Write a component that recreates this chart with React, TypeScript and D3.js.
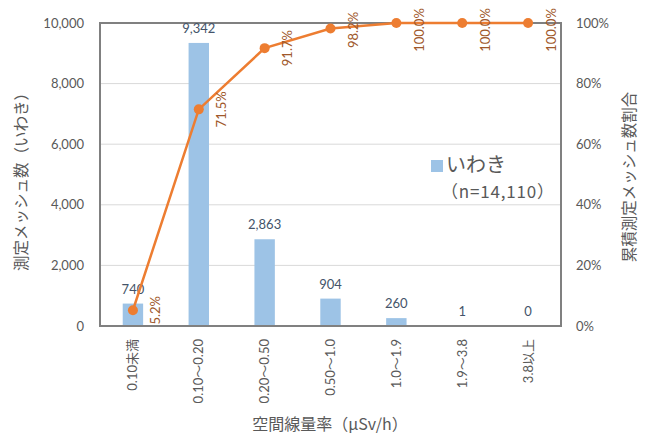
import React from "react";
import * as d3 from "d3";

const categories = ["0.10未満", "0.10～0.20", "0.20～0.50", "0.50～1.0", "1.0～1.9", "1.9～3.8", "3.8以上"];
const counts = [740, 9342, 2863, 904, 260, 1, 0];
const cumulative = [5.2, 71.5, 91.7, 98.2, 100.0, 100.0, 100.0];
const leftTicks = [0, 2000, 4000, 6000, 8000, 10000];
const rightTicks = [0, 20, 40, 60, 80, 100];

const W = 654, H = 441;
const M = { left: 100, right: 561, top: 23, bottom: 326 };
const FONT = "Lato, 'Noto Sans CJK JP', sans-serif";
const JP = "'Noto Sans CJK JP', sans-serif";

export default function App() {
  const x = d3.scaleBand<string>().domain(categories).range([M.left, M.right]);
  const yL = d3.scaleLinear().domain([0, 10000]).range([M.bottom, M.top]);
  const yR = d3.scaleLinear().domain([0, 100]).range([M.bottom, M.top]);
  const bw = x.bandwidth() * 0.31;
  const cx = (c: string) => (x(c) as number) + x.bandwidth() / 2;
  const line = d3.line<number>().x((_, i) => cx(categories[i])).y((d) => yR(d));

  return (
    <svg width={W} height={H} style={{ position: "absolute", left: 0, top: 0, background: "#fff" }}>
      {leftTicks.map((t) => (
        <line key={"g" + t} x1={M.left} x2={M.right} y1={yL(t)} y2={yL(t)} stroke="#D9D9D9" strokeWidth={1} />
      ))}
      {categories.map((c, i) => (
        <rect key={"b" + c} x={cx(c) - bw / 2} width={bw} y={yL(counts[i])} height={M.bottom - yL(counts[i])} fill="#9DC3E6" />
      ))}
      <rect x={M.left} y={M.top} width={M.right - M.left} height={M.bottom - M.top} fill="none" stroke="#808080" strokeWidth={2} />
      {categories.map((c, i) => (
        <text key={"v" + c} x={cx(c)} y={yL(counts[i]) - 10} textAnchor="middle" fontFamily={FONT} fontSize={13} fill="#44546A">
          {d3.format(",")(counts[i])}
        </text>
      ))}
      <path d={line(cumulative) || ""} fill="none" stroke="#ED7D31" strokeWidth={2.5} />
      {cumulative.map((v, i) => (
        <circle key={"p" + i} cx={cx(categories[i])} cy={yR(v)} r={5} fill="#ED7D31" />
      ))}
      {cumulative.map((v, i) => {
        const px = cx(categories[i]) + 23;
        const py = Math.max(yR(v), 30);
        return (
          <text key={"l" + i} transform={`translate(${px},${py}) rotate(-90)`} textAnchor="middle" dy="0.35em" fontFamily={FONT} fontSize={13} fill="#A0582A">
            {v.toFixed(1) + "%"}
          </text>
        );
      })}
      {leftTicks.map((t) => (
        <text key={"lt" + t} x={84} y={yL(t)} dy="0.35em" textAnchor="end" fontFamily={FONT} fontSize={13} fill="#595959">
          {d3.format(",")(t)}
        </text>
      ))}
      {rightTicks.map((t) => (
        <text key={"rt" + t} x={576} y={yR(t)} dy="0.35em" textAnchor="start" fontFamily={FONT} fontSize={13} fill="#595959">
          {t + "%"}
        </text>
      ))}
      {categories.map((c) => (
        <text key={"x" + c} transform={`translate(${cx(c)},339) rotate(-90)`} textAnchor="end" dy="0.35em" fontFamily={FONT} fontSize={13} fill="#595959">
          {c}
        </text>
      ))}
      <text x={330} y={430} textAnchor="middle" fontFamily={JP} fontSize={16} fill="#595959">空間線量率（µSv/h）</text>
      <text transform={`translate(22,178) rotate(-90)`} textAnchor="middle" dy="0.35em" fontFamily={JP} fontSize={15.5} fill="#595959">測定メッシュ数（いわき）</text>
      <text transform={`translate(630,177) rotate(-90)`} textAnchor="middle" dy="0.35em" fontFamily={JP} fontSize={15.5} fill="#595959">累積測定メッシュ数割合</text>
      <rect x={431} y={160} width={12} height={12} fill="#9DC3E6" />
      <text x={446} y={172} fontFamily={JP} fontSize={20} fill="#595959">いわき</text>
      <text x={441} y={198} fontFamily={JP} fontSize={17} fill="#595959" letterSpacing={0.8}>（n=14,110）</text>
    </svg>
  );
}
